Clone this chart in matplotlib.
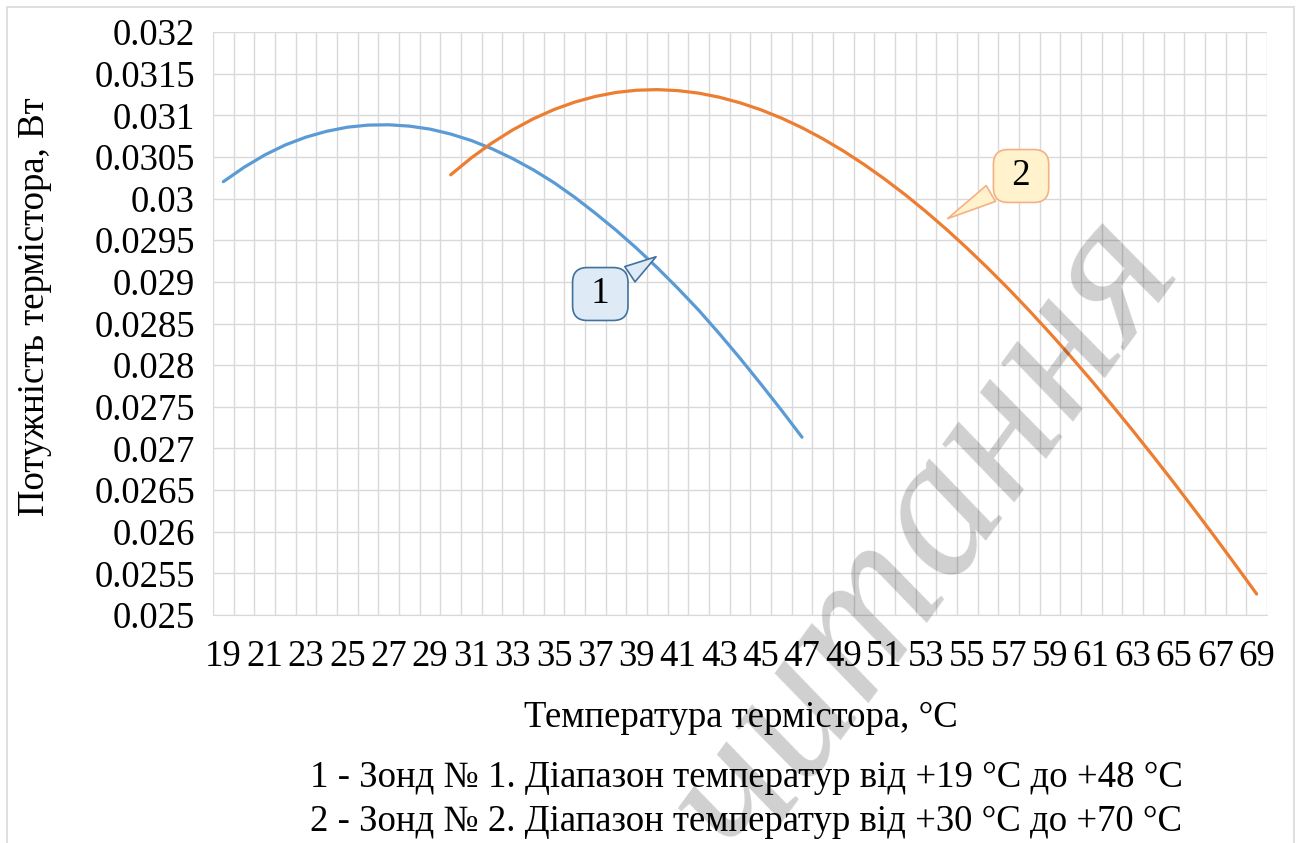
import matplotlib
matplotlib.use("Agg")
import matplotlib.pyplot as plt
from matplotlib.ticker import FixedLocator, FuncFormatter, MultipleLocator
from matplotlib.patches import Rectangle

plt.rcParams['font.family'] = ['Liberation Serif', 'DejaVu Serif']

# ---- data ----
categories = list(range(19, 70))  # x-axis categories (°C)

temps_1 = list(range(19, 48))
power_1 = [0.030203, 0.030375, 0.030523, 0.030644, 0.030738, 0.030808, 0.030857, 0.030882,
           0.030886, 0.030870, 0.030834, 0.030775, 0.030697, 0.030598, 0.030480, 0.030345,
           0.030191, 0.030016, 0.029824, 0.029621, 0.029402, 0.029169, 0.028921, 0.028660,
           0.028378, 0.028083, 0.027776, 0.027461, 0.027135]

temps_2 = list(range(30, 70))
power_2 = [0.030285, 0.030489, 0.030668, 0.030824, 0.030958, 0.031069, 0.031158, 0.031226,
           0.031274, 0.031301, 0.031308, 0.031296, 0.031266, 0.031217, 0.031150, 0.031067,
           0.030967, 0.030851, 0.030719, 0.030572, 0.030410, 0.030234, 0.030045, 0.029843,
           0.029628, 0.029401, 0.029163, 0.028914, 0.028654, 0.028384, 0.028105, 0.027817,
           0.027520, 0.027216, 0.026904, 0.026586, 0.026260, 0.025930, 0.025593, 0.025252]

x_title = "Температура термістора, °С"
y_title = "Потужність термістора, Вт"
note_1 = "1 - Зонд № 1. Діапазон температур від +19 °С до +48 °С"
note_2 = "2 - Зонд № 2. Діапазон температур від +30 °С до +70 °С"
watermark = "читання"

FS = 26.5
W, H = 1297, 843
fig = plt.figure(figsize=(W / 100, H / 100), dpi=100)
ax = fig.add_axes([213 / W, 1 - 615 / H, (1267 - 213) / W, (615 - 32) / H])

# outer chart border
fig.add_artist(Rectangle((7 / W, -0.01), (W - 10) / W, 1 - 7 / H + 0.01, transform=fig.transFigure,
                         fill=False, ec='#D9D9D9', lw=1.2))

idx = {c: i for i, c in enumerate(categories)}
x1 = [idx[t] for t in temps_1]
x2 = [idx[t] for t in temps_2]

ax.plot(x1, power_1, color='#5B9BD5', lw=2.3, solid_capstyle='round', solid_joinstyle='round', zorder=3)
ax.plot(x2, power_2, color='#ED7D31', lw=2.3, solid_capstyle='round', solid_joinstyle='round', zorder=3)

ax.set_xlim(-0.5, len(categories) - 0.5)
ax.set_ylim(0.025, 0.032)

ax.xaxis.set_major_locator(FixedLocator(list(range(0, len(categories), 2))))
ax.set_xticklabels([str(c) for c in categories[::2]])
ax.xaxis.set_minor_locator(FixedLocator([i - 0.5 for i in range(len(categories) + 1)]))
ax.yaxis.set_major_locator(MultipleLocator(0.0005))
ax.yaxis.set_major_formatter(FuncFormatter(lambda v, p: f"{round(v, 5):g}"))

ax.grid(False)
ax.grid(True, which='minor', axis='x', color='#D9D9D9', lw=1.0)
ax.grid(True, which='major', axis='y', color='#D9D9D9', lw=1.0)
ax.set_axisbelow(True)
for s in ax.spines.values():
    s.set_visible(False)
ax.spines['bottom'].set_visible(True)
ax.spines['bottom'].set_color('#D9D9D9')
ax.tick_params(axis='both', which='both', length=0, labelsize=FS, colors='black')
ax.tick_params(axis='x', pad=18)
ax.tick_params(axis='y', pad=13)

fig.text(741 / W, 1 - 718 / H, x_title, ha='center', va='center', fontsize=FS)
fig.text(35 / W, 1 - 307 / H, y_title, ha='center', va='center', rotation=90, fontsize=FS)
fig.text(746 / W, 1 - 778 / H, note_1, ha='center', va='center', fontsize=FS)
fig.text(746 / W, 1 - 822 / H, note_2, ha='center', va='center', fontsize=FS)

# callouts
ax.annotate(" 1 ", xy=(21.05, 0.02932), xytext=(18.24, 0.028854), ha='center', va='center',
            fontsize=FS, zorder=5,
            bbox=dict(boxstyle='round,pad=0.25,rounding_size=0.4', fc='#DEEBF7', ec='#41719C', lw=1.2),
            arrowprops=dict(arrowstyle='wedge,tail_width=0.5,shrink_factor=0.5', fc='#DEEBF7',
                            ec='#41719C', lw=1.2))
ax.annotate(" 2 ", xy=(34.93, 0.029743), xytext=(38.6, 0.030271), ha='center', va='center',
            fontsize=FS, zorder=5,
            bbox=dict(boxstyle='round,pad=0.25,rounding_size=0.4', fc='#FFF2CC', ec='#F4B183', lw=1.2),
            arrowprops=dict(arrowstyle='wedge,tail_width=0.5,shrink_factor=0.5', fc='#FFF2CC',
                            ec='#F4B183', lw=1.2))

# watermark
fig.text(925 / W, 1 - 535 / H, watermark, ha='center', va='center', rotation=54,
         fontsize=145, style='italic', color='black', alpha=0.19, zorder=10)

fig.savefig("out.png", dpi=100)
